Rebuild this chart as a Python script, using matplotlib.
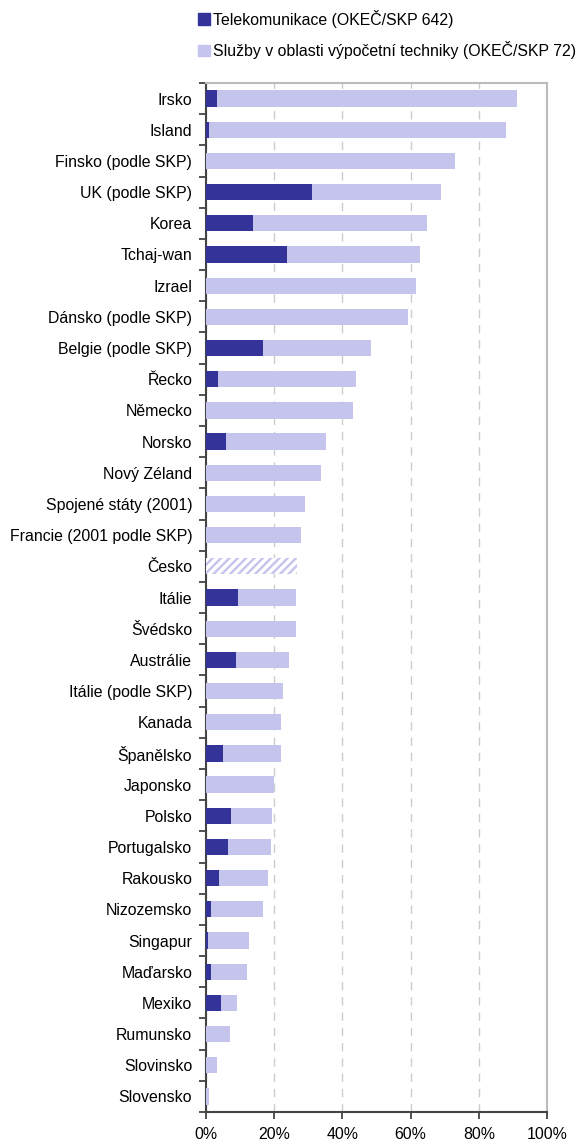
import numpy as np
import matplotlib
matplotlib.use("Agg")
import matplotlib.pyplot as plt
from matplotlib.patches import Patch

plt.rcParams['font.family'] = ['Liberation Sans', 'DejaVu Sans']
plt.rcParams['hatch.linewidth'] = 2.5

countries = ['Irsko', 'Island', 'Finsko (podle SKP)', 'UK (podle SKP)', 'Korea',
             'Tchaj-wan', 'Izrael', 'Dánsko (podle SKP)', 'Belgie (podle SKP)', 'Řecko',
             'Německo', 'Norsko', 'Nový Zéland', 'Spojené státy (2001)',
             'Francie (2001 podle SKP)', 'Česko', 'Itálie', 'Švédsko', 'Austrálie',
             'Itálie (podle SKP)', 'Kanada', 'Španělsko', 'Japonsko', 'Polsko',
             'Portugalsko', 'Rakousko', 'Nizozemsko', 'Singapur', 'Maďarsko', 'Mexiko',
             'Rumunsko', 'Slovinsko', 'Slovensko']
# telekomunikace (OKEC/SKP 642), %
telekom = [3.1, 0.9, 0.0, 31.1, 13.8,
           23.8, 0.0, 0.0, 16.7, 3.5,
           0.0, 5.9, 0.0, 0.0,
           0.0, 0.0, 9.4, 0.0, 8.8,
           0.0, 0.0, 5.0, 0.0, 7.3,
           6.5, 3.8, 1.5, 0.6, 1.5, 4.4,
           0.0, 0.0, 0.0]
# total of both groups, %
celkem = [91.1, 87.9, 73.0, 68.8, 64.8,
          62.8, 61.6, 59.2, 48.4, 44.0,
          43.1, 35.2, 33.7, 29.0,
          27.9, 26.8, 26.4, 26.4, 24.3,
          22.6, 22.0, 22.0, 19.9, 19.4,
          19.1, 18.2, 16.7, 12.6, 12.0, 9.1,
          7.0, 3.2, 0.9]
hatched = ['Česko']

dark = '#333399'
light = '#c4c4ec'

telekom = np.array(telekom)
celkem = np.array(celkem)
sluzby = celkem - telekom
y = np.arange(len(countries))

fig = plt.figure(figsize=(5.82, 11.43), dpi=100)
ax = fig.add_axes([0.354, 0.0271, 0.586, 0.9003])

h = 0.52
ax.barh(y, telekom, height=h, color=dark, linewidth=0, zorder=3)
for i, c in enumerate(countries):
    if c in hatched:
        ax.barh(i, sluzby[i], left=telekom[i], height=h, color=light,
                edgecolor='white', hatch='////', linewidth=0, zorder=3)
    else:
        ax.barh(i, sluzby[i], left=telekom[i], height=h, color=light,
                linewidth=0, zorder=3)

ax.set_xlim(0, 100)
ax.set_ylim(len(countries) - 0.5, -0.5)
ax.set_xticks(np.arange(0, 101, 20))
ax.set_xticklabels(['%d%%' % v for v in range(0, 101, 20)], fontsize=11.4)
ax.set_yticks(y)
ax.set_yticklabels(countries, fontsize=11.4)
ax.tick_params(axis='y', which='major', length=0, pad=10)
ax.set_yticks(np.arange(-0.5, len(countries)), minor=True)
ax.tick_params(axis='y', which='minor', length=5, width=1.2, color='#333333')
ax.tick_params(axis='x', length=5, width=1.2, color='#333333', pad=6)

ax.grid(axis='x', color='#cccccc', linestyle=(0, (6, 5)), linewidth=1, zorder=0)
for s in ['left', 'bottom']:
    ax.spines[s].set_color('#444444')
    ax.spines[s].set_linewidth(1.5)
for s in ['top', 'right']:
    ax.spines[s].set_color('#bbbbbb')
    ax.spines[s].set_linewidth(1.5)

handles = [Patch(color=dark, label='Telekomunikace (OKEČ/SKP 642)'),
           Patch(color=light, label='Služby v oblasti výpočetní techniky (OKEČ/SKP 72)')]
fig.legend(handles=handles, loc='upper left', bbox_to_anchor=(0.316, 1.004),
           frameon=False, fontsize=11.4, handlelength=0.75, handleheight=0.75,
           handletextpad=0.2, labelspacing=0.85)

fig.savefig('out.png', dpi=100)
